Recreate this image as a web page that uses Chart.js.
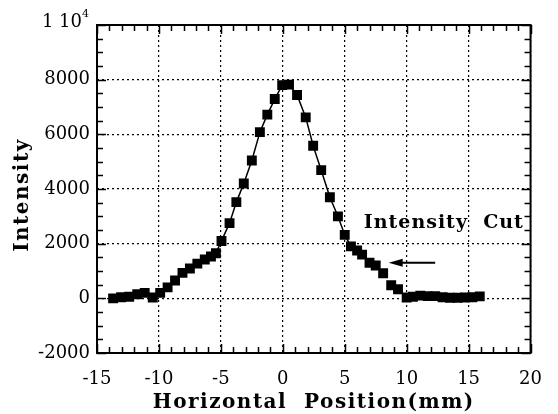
<!DOCTYPE html>
<html>
<head>
<meta charset="utf-8">
<script src="https://cdn.jsdelivr.net/npm/chart.js@4.4.0/dist/chart.umd.min.js"></script>
<style>
  html, body { margin: 0; padding: 0; background: #fff; }
  #wrap { width: 558px; height: 414px; }
</style>
</head>
<body>
<div id="wrap"><canvas id="chart" width="558" height="414"></canvas></div>
<script>
// position (mm) and intensity
var positions = [-13.7, -13.05, -12.4, -11.75, -11.15, -10.5, -9.9, -9.3, -8.7, -8.1, -7.5, -6.9, -6.3, -5.8, -5.4,
    -4.95, -4.3, -3.75, -3.15, -2.5, -1.85, -1.25, -0.65, -0.05, 0.5, 1.15, 1.85, 2.45, 3.1, 3.8,
    4.45, 5.0, 5.5, 6.0, 6.4, 7.0, 7.5, 8.1, null, 8.75, 9.3, 10.0, 10.5, 11.1, 11.7, 12.3, 12.9,
    13.5, 14.1, 14.7, 15.3, 15.9];
var intensity = [0, 40, 60, 150, 200, 30, 200, 400, 650, 930, 1090, 1270, 1420, 1530, 1650,
    2100, 2750, 3520, 4200, 5040, 6080, 6720, 7290, 7800, 7820, 7440, 6620, 5580, 4690, 3700,
    3000, 2320, 1900, 1750, 1600, 1300, 1200, 920, null, 480, 330, 30, 60, 100, 80, 80, 40,
    20, 20, 30, 40, 70];
var xTicks = [-15, -10, -5, 0, 5, 10, 15, 20];
var yTicks = [-2000, 0, 2000, 4000, 6000, 8000, 10000];
var xTitle = 'Horizontal  Position(mm)';
var yTitle = 'Intensity';
var noteText = 'Intensity  Cut';

var serif = "'DejaVu Serif', 'Liberation Serif', serif";

var points = [];
for (var i = 0; i < positions.length; i++) {
    if (positions[i] === null) {
        points.push({x: (positions[i - 1] + positions[i + 1]) / 2, y: null});
    } else {
        points.push({x: positions[i], y: intensity[i]});
    }
}

var framePlugin = {
    id: 'frame',
    afterDraw: function (chart) {
        var ctx = chart.ctx;
        var a = chart.chartArea;
        var xs = chart.scales.x;
        var ys = chart.scales.y;
        ctx.save();
        ctx.strokeStyle = '#000';
        ctx.lineWidth = 1.5;
        ctx.beginPath();
        // minor / major ticks, pointing inwards on all four sides
        for (var v = xTicks[0]; v <= xTicks[xTicks.length - 1]; v++) {
            var px = Math.round(xs.getPixelForValue(v)) + 0.5;
            var len = (v % 5 === 0) ? 9 : 6;
            ctx.moveTo(px, a.bottom); ctx.lineTo(px, a.bottom - len);
            ctx.moveTo(px, a.top); ctx.lineTo(px, a.top + len);
        }
        for (var w = yTicks[0]; w <= yTicks[yTicks.length - 1]; w += 500) {
            var py = Math.round(ys.getPixelForValue(w)) + 0.5;
            var l2 = (w % 2000 === 0) ? 9 : 6;
            ctx.moveTo(a.left, py); ctx.lineTo(a.left + l2, py);
            ctx.moveTo(a.right, py); ctx.lineTo(a.right - l2, py);
        }
        ctx.stroke();
        ctx.lineWidth = 2;
        ctx.strokeRect(a.left, a.top, a.right - a.left, a.bottom - a.top);

        // "1 10^4" label for the top tick
        var topY = ys.getPixelForValue(10000);
        ctx.fillStyle = '#000';
        ctx.font = '18px ' + serif;
        ctx.textAlign = 'right';
        ctx.textBaseline = 'alphabetic';
        ctx.fillText('1 10', a.left - 15, topY + 2);
        ctx.font = '11px ' + serif;
        ctx.textAlign = 'left';
        ctx.fillText('4', a.left - 15, topY - 8);

        // axis titles, letter spaced
        ctx.letterSpacing = '1.5px';
        ctx.font = 'bold 20px ' + serif;
        ctx.textAlign = 'center';
        ctx.textBaseline = 'middle';
        ctx.fillText(xTitle, (a.left + a.right) / 2, 403);
        ctx.save();
        ctx.translate(23, (a.top + a.bottom) / 2 + 6);
        ctx.rotate(-Math.PI / 2);
        ctx.fillText(yTitle, 0, 0);
        ctx.restore();

        // annotation
        ctx.letterSpacing = '1px';
        ctx.font = 'bold 19px ' + serif;
        ctx.fillText(noteText, xs.getPixelForValue(13.0), ys.getPixelForValue(2750));
        ctx.letterSpacing = '0px';

        var ax0 = xs.getPixelForValue(12.3);
        var ax1 = xs.getPixelForValue(8.55);
        var ay = ys.getPixelForValue(1300);
        ctx.lineWidth = 2;
        ctx.beginPath();
        ctx.moveTo(ax0, ay); ctx.lineTo(ax1 + 10, ay);
        ctx.stroke();
        ctx.beginPath();
        ctx.moveTo(ax1, ay);
        ctx.lineTo(ax1 + 14, ay - 4);
        ctx.lineTo(ax1 + 14, ay + 4);
        ctx.closePath();
        ctx.fill();
        ctx.restore();
    }
};

var chart = new Chart(document.getElementById('chart').getContext('2d'), {
    type: 'scatter',
    data: {
        datasets: [
            {
                data: points,
                showLine: true,
                spanGaps: false,
                borderColor: '#000',
                borderWidth: 1.5,
                backgroundColor: '#000',
                pointStyle: 'rect',
                pointRadius: 7,
                pointBorderWidth: 0,
                tension: 0
            }
        ]
    },
    options: {
        responsive: false,
        animation: false,
        layout: {padding: {top: 25, right: 21, left: 0, bottom: 0}},
        plugins: {
            legend: {display: false},
            tooltip: {enabled: false}
        },
        scales: {
            x: {
                type: 'linear',
                min: -15,
                max: 20,
                afterBuildTicks: function (scale) {
                    scale.ticks = xTicks.map(function (v) { return {value: v}; });
                },
                afterFit: function (scale) { scale.height = 61; },
                grid: {
                    color: '#000',
                    lineWidth: 1.2,
                    drawTicks: false,
                    tickLength: 0
                },
                border: {display: false, dash: [2, 3]},
                ticks: {
                    color: '#000',
                    padding: 16,
                    maxRotation: 0,
                    font: {family: serif, size: 18}
                }
            },
            y: {
                min: -2000,
                max: 10000,
                afterBuildTicks: function (scale) {
                    scale.ticks = yTicks.map(function (v) { return {value: v}; });
                },
                afterFit: function (scale) { scale.width = 97; },
                grid: {
                    color: '#000',
                    lineWidth: 1.2,
                    drawTicks: false,
                    tickLength: 0
                },
                border: {display: false, dash: [2, 3]},
                ticks: {
                    color: '#000',
                    padding: 7,
                    font: {family: serif, size: 18},
                    callback: function (v) { return v === 10000 ? '' : String(v); }
                }
            }
        }
    },
    plugins: [framePlugin]
});
</script>
</body>
</html>
